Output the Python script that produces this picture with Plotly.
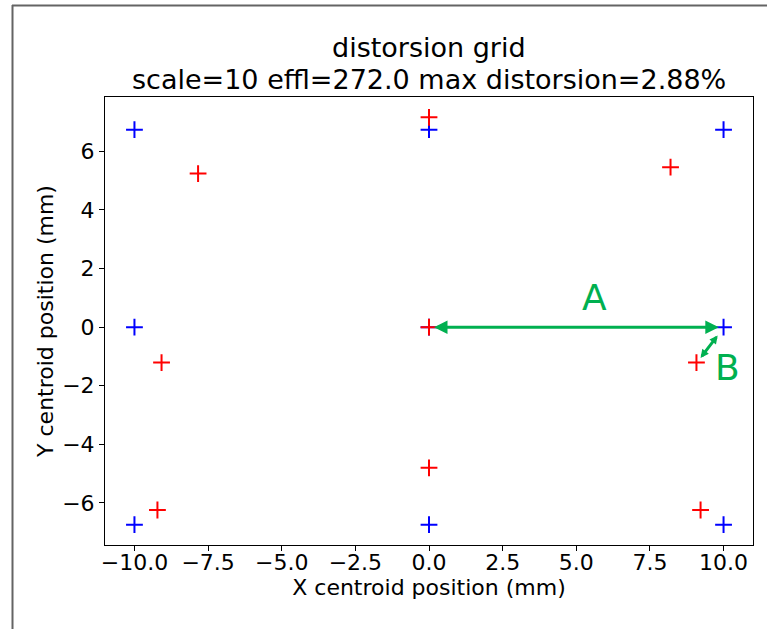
import plotly.graph_objects as go

# ---- data ----
ideal_x = [-10, 0, 10, -10, 0, 10, -10, 0, 10]
ideal_y = [6.74, 6.74, 6.74, 0, 0, 0, -6.74, -6.74, -6.74]
dist_x = [-7.84, 0, 8.20, -9.08, 0, 9.08, -9.22, 0, 9.22]
dist_y = [5.24, 7.16, 5.46, -1.21, 0, -1.21, -6.24, -4.80, -6.24]
x_ticks = [-10, -7.5, -5, -2.5, 0, 2.5, 5, 7.5, 10]
y_ticks = [-6, -4, -2, 0, 2, 4, 6]
title_lines = ["distorsion grid", "scale=10 effl=272.0 max distorsion=2.88%"]
arrow_A = dict(x0=0.12, y0=0.0, x1=9.84, y1=0.0)
arrow_B = dict(x0=9.84, y0=-0.23, x1=9.22, y1=-1.05)
label_A = (5.62, 1.01)
label_B = (10.14, -1.385)

W, H = 767, 629
ML, MR, MT, MB = 105, 14, 97, 84
PW, PH = W - ML - MR, H - MT - MB
GREEN = "#00B050"
FONT = "DejaVu Sans"


def px_x(px):
    return (px - ML) / PW


def px_y(py):
    return (H - MB - py) / PH


fig = go.Figure()
fig.add_trace(go.Scatter(x=ideal_x, y=ideal_y, mode="markers",
                         marker=dict(symbol="cross-thin", size=12, color="blue",
                                     line=dict(color="blue", width=2)),
                         showlegend=False))
fig.add_trace(go.Scatter(x=dist_x, y=dist_y, mode="markers",
                         marker=dict(symbol="cross-thin", size=12, color="red",
                                     line=dict(color="red", width=2)),
                         showlegend=False))

annotations = []
for a, sz in ((arrow_A, 0.9), (arrow_B, 0.55)):
    annotations.append(dict(x=a["x1"], y=a["y1"], ax=a["x0"], ay=a["y0"],
                            xref="x", yref="y", axref="x", ayref="y",
                            text="", showarrow=True, arrowside="end+start",
                            arrowhead=2, arrowsize=sz, arrowwidth=3,
                            arrowcolor=GREEN, standoff=0, startstandoff=0))
for txt, (lx, ly) in (("A", label_A), ("B", label_B)):
    annotations.append(dict(x=lx, y=ly, xref="x", yref="y", text=txt,
                            showarrow=False, font=dict(size=36, color=GREEN, family=FONT),
                            xanchor="center", yanchor="middle"))
# title lines
annotations.append(dict(x=0.5, y=px_y(47), xref="paper", yref="paper", text=title_lines[0],
                        showarrow=False, font=dict(size=27, color="black", family=FONT),
                        xanchor="center", yanchor="middle"))
annotations.append(dict(x=0.5, y=px_y(80), xref="paper", yref="paper", text=title_lines[1],
                        showarrow=False, font=dict(size=27, color="black", family=FONT),
                        xanchor="center", yanchor="middle"))

shapes = [
    dict(type="line", xref="paper", yref="paper", x0=px_x(12.5), x1=px_x(12.5),
         y0=px_y(5), y1=px_y(H + 2), line=dict(color="#646464", width=2)),
    dict(type="line", xref="paper", yref="paper", x0=px_x(12), x1=px_x(W + 2),
         y0=px_y(5.5), y1=px_y(5.5), line=dict(color="#646464", width=2)),
]

axis_common = dict(showgrid=False, zeroline=False, showline=True, mirror=True,
                   linecolor="black", linewidth=1, ticks="outside", ticklen=5,
                   tickwidth=1, tickcolor="black",
                   tickfont=dict(size=22, color="black", family=FONT))

fig.update_layout(
    width=W, height=H,
    margin=dict(l=ML, r=MR, t=MT, b=MB),
    paper_bgcolor="white", plot_bgcolor="white",
    font=dict(family=FONT, color="black"),
    xaxis=dict(range=[-11, 11], tickvals=x_ticks, tickformat=".1f",
               ticklabelstandoff=-7,
               title=dict(text="X centroid position (mm)", font=dict(size=22, family=FONT),
                          standoff=4),
               **axis_common),
    yaxis=dict(range=[-7.435, 7.855], tickvals=y_ticks,
               title=dict(text="Y centroid position (mm)", font=dict(size=22, family=FONT),
                          standoff=2),
               **axis_common),
    annotations=annotations,
    shapes=shapes,
)

fig.write_html("out.html")
